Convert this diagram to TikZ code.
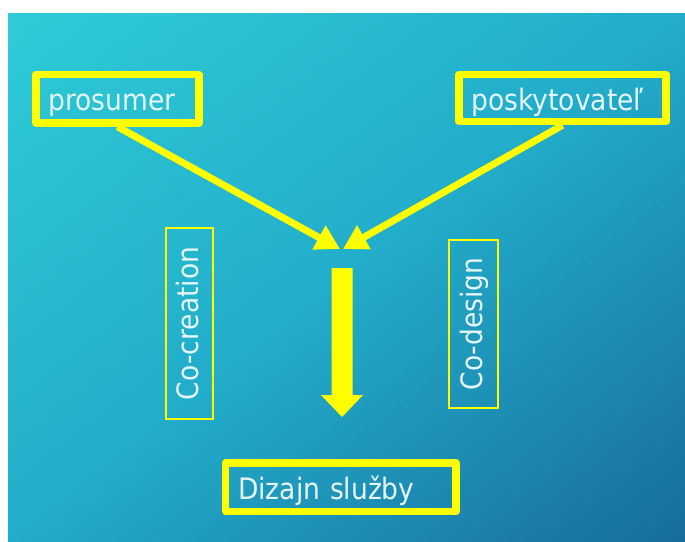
\documentclass[tikz,border=0pt]{standalone}
\usepackage{fontspec}
\setmainfont{DejaVu Sans Condensed}
\usetikzlibrary{arrows.meta}
\definecolor{bgA}{RGB}{46,203,214}
\definecolor{bgB}{RGB}{34,172,202}
\definecolor{bgC}{RGB}{24,108,155}
\definecolor{txt}{RGB}{228,246,248}
\definecolor{yel}{RGB}{255,255,0}
\tikzset{
  thickbox/.style={draw=yel, line width=7.5pt, line join=round, inner xsep=12.5pt, inner ysep=0pt,
    text=txt, font=\fontsize{29.5}{30}\selectfont, align=left, text height=29pt, text depth=5pt},
  thinbox/.style={draw=yel, line width=1.8pt, inner sep=0pt, rotate=90,
    text=txt, font=\fontsize{29.5}{30}\selectfont, text height=21pt, text depth=4pt},
  flow/.style={draw=yel, line width=7pt, -{Triangle[length=24pt,width=26pt]}},
}
\begin{document}
\begin{tikzpicture}[x=1pt,y=-1pt]
\useasboundingbox (0,0) rectangle (685,541);
\fill[white] (0,0) rectangle (685,541);
\begin{scope}
\clip (8,13) rectangle (685,541);
\begin{scope}[shift={(8,13)}, rotate=-52.05]
\foreach \i in {0,...,99} {
  \pgfmathsetmacro{\ta}{\i*8.327}
  \pgfmathsetmacro{\tb}{(\i+1)*8.327+0.8}
  \ifnum\i<50
    \pgfmathtruncatemacro{\p}{100-2*\i}\colorlet{cur}{bgA!\p!bgB}
  \else
    \pgfmathtruncatemacro{\p}{200-2*\i}\colorlet{cur}{bgB!\p!bgC}
  \fi
  \fill[cur] (\ta,-800) rectangle (\tb,800);
}
\end{scope}
\end{scope}

\node[thickbox, minimum height=48.5pt, text width=138pt] (pro) at (117.5,98.75) {prosumer};
\node[thickbox, minimum height=47pt, text width=182pt] (pos) at (562.5,98) {poskytovateľ};
\node[thickbox, minimum height=48.5pt, text width=205.5pt] (diz) at (340.75,487.25) {Dizajn služby};

\node[thinbox, minimum width=191pt, minimum height=47pt] (coc) at (189.5,323.5) {Co-creation\hspace{10pt}};
\node[thinbox, minimum width=168pt, minimum height=49pt] (cod) at (473.5,324) {Co-design\hspace{9pt}};

\coordinate (ml) at (340,249);
\coordinate (mr) at (343,249);
\draw[flow] (pro.south) -- (ml);
\draw[flow] (pos.south) -- (mr);

\coordinate (dt) at (342,268);
\fill[yel, shift={(dt)}] (-10.5,0) -- (10.5,0) -- (10.5,127) -- (21,127) -- (0,149) -- (-21,127) -- (-10.5,127) -- cycle;
\end{tikzpicture}
\end{document}
